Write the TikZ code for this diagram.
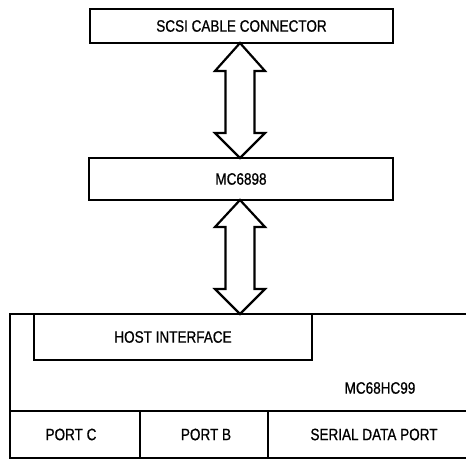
\documentclass[tikz,border=0pt]{standalone}
\usepackage{fontspec}
\setmainfont{Liberation Sans}[FakeStretch=0.82,FakeBold=0.8]
\usetikzlibrary{calc}
\begin{document}
\begin{tikzpicture}[x=1pt,y=1pt,
  blk/.style={draw, line width=2.8pt, inner sep=0pt, outer sep=0pt, font=\fontsize{16.5}{18}\selectfont},
  lbl/.style={inner sep=0pt, font=\fontsize{16.5}{18}\selectfont},
  fatarrow/.style={draw, line width=2.2pt, line join=miter, fill=white},
  thick line/.style={line width=2.8pt}]
\useasboundingbox (0,0) rectangle (466,461);

\node[blk, minimum width=303pt, minimum height=34pt] (scsi) at (241.5,435) {SCSI CABLE CONNECTOR};
\node[blk, minimum width=304pt, minimum height=42pt] (mc6898) at (241,282) {MC6898};

% MC68HC99 outer body (runs off the right edge)
\coordinate (bodytl) at (10,147);
\coordinate (bodybl) at (10,3);
\coordinate (bodytr) at (480,147);
\coordinate (bodybr) at (480,3);
\coordinate (divl) at (10,50);
\coordinate (divr) at (480,50);
\draw[thick line] (bodytr) -- (bodytl) -- (bodybl) -- (bodybr);
\draw[thick line] (divl) -- (divr);

\node[blk, minimum width=278pt, minimum height=46pt] (hostif) at (173,124) {HOST INTERFACE};
\node[lbl] (mc99) at (380,73) {MC68HC99};

\coordinate (d1t) at (140,50);
\coordinate (d1b) at (140,3);
\coordinate (d2t) at (268,50);
\coordinate (d2b) at (268,3);
\draw[thick line] (d1t) -- (d1b);
\draw[thick line] (d2t) -- (d2b);

\node[lbl] (portc) at (71,26.5) {PORT C};
\node[lbl] (portb) at (206,26.5) {PORT B};
\node[lbl] (serial) at (374,26.5) {SERIAL DATA PORT};

% double-headed hollow arrows
\coordinate (a2top) at (240,261);
\coordinate (a2bot) at (240,147);
\draw[fatarrow] let \p1=($(scsi.south)+(-1.5pt,0)$), \p2=($(mc6898.north)+(-1pt,0)$) in
  (\x1,\y1) -- (\x1+25pt,\y1-28pt) -- (\x1+14.5pt,\y1-28pt) -- (\x1+14.5pt,\y2+25pt)
  -- (\x1+25pt,\y2+25pt) -- (\x2,\y2) -- (\x1-25pt,\y2+25pt) -- (\x1-14.5pt,\y2+25pt)
  -- (\x1-14.5pt,\y1-28pt) -- (\x1-25pt,\y1-28pt) -- cycle;
\draw[fatarrow] let \p1=(a2top), \p2=(a2bot) in
  (\x1,\y1) -- (\x1+25pt,\y1-27pt) -- (\x1+14.5pt,\y1-27pt) -- (\x1+14.5pt,\y2+25pt)
  -- (\x1+25pt,\y2+25pt) -- (\x2,\y2) -- (\x1-25pt,\y2+25pt) -- (\x1-14.5pt,\y2+25pt)
  -- (\x1-14.5pt,\y1-27pt) -- (\x1-25pt,\y1-27pt) -- cycle;
\end{tikzpicture}
\end{document}
